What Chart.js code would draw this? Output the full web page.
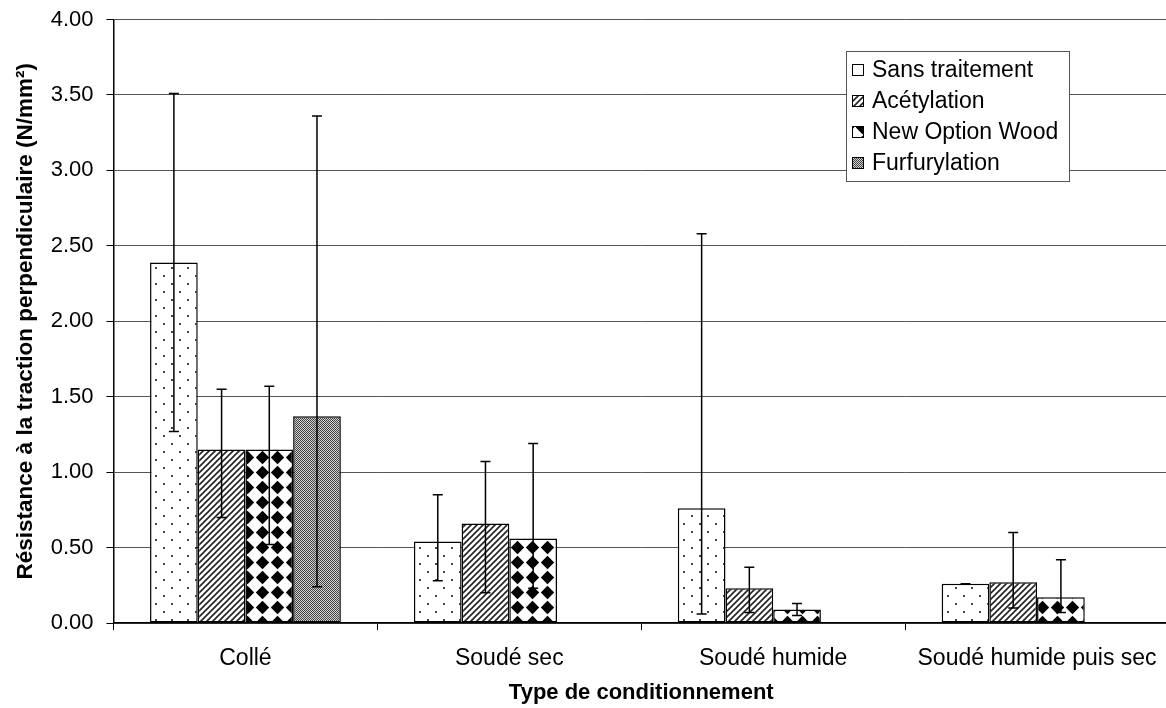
<!DOCTYPE html>
<html>
<head>
<meta charset="utf-8">
<script src="https://cdn.jsdelivr.net/npm/chart.js@4.4.0/dist/chart.umd.min.js"></script>
<style>
  html, body { margin: 0; padding: 0; background: #fff; overflow: hidden; }
  #wrap { width: 1170px; height: 708px; }
</style>
</head>
<body>
<div id="wrap"><canvas id="chart"></canvas></div>
<script>
const categories = ["Collé", "Soudé sec", "Soudé humide", "Soudé humide puis sec"];
const seriesNames = ["Sans traitement", "Acétylation", "New Option Wood", "Furfurylation"];

// mean values
const sansValues = [2.39, 0.54, 0.76, 0.26];
const acetValues = [1.15, 0.66, 0.23, 0.27];
const nowValues = [1.15, 0.56, 0.09, 0.17];
const furfValues = [1.37, null, null, null];

// error bar ends
const sansLow = [1.27, 0.28, 0.06, 0.26];
const sansHigh = [3.51, 0.85, 2.58, 0.26];
const acetLow = [0.70, 0.20, 0.07, 0.10];
const acetHigh = [1.55, 1.07, 0.37, 0.60];
const nowLow = [0.52, 0.23, 0.05, 0.07];
const nowHigh = [1.57, 1.19, 0.13, 0.42];
const furfLow = [0.24, null, null, null];
const furfHigh = [3.36, null, null, null];

const yTickValues = [0, 0.5, 1, 1.5, 2, 2.5, 3, 3.5, 4];

const FONT = "'Liberation Sans', Arial, sans-serif";

function makePattern(kind) {
  const c = document.createElement("canvas");
  const g = c.getContext("2d");
  if (kind === "dots") {
    c.width = 16; c.height = 16;
    g.fillStyle = "#fff"; g.fillRect(0, 0, 16, 16);
    g.fillStyle = "#444";
    g.fillRect(3, 3, 2, 2);
    g.fillRect(11, 11, 2, 2);
  } else if (kind === "diag") {
    c.width = 6; c.height = 6;
    g.fillStyle = "#fff"; g.fillRect(0, 0, 6, 6);
    g.strokeStyle = "#222"; g.lineWidth = 1.6;
    g.beginPath();
    g.moveTo(-1, 7); g.lineTo(7, -1);
    g.moveTo(-4, 4); g.lineTo(4, -4);
    g.moveTo(2, 10); g.lineTo(10, 2);
    g.stroke();
  } else if (kind === "diamond") {
    c.width = 15; c.height = 15;
    g.fillStyle = "#fff"; g.fillRect(0, 0, 15, 15);
    g.fillStyle = "#000";
    g.beginPath();
    g.moveTo(7.5, 0.8); g.lineTo(14.2, 7.5); g.lineTo(7.5, 14.2); g.lineTo(0.8, 7.5);
    g.closePath(); g.fill();
  } else {
    c.width = 2; c.height = 2;
    g.fillStyle = "#d0d0d0"; g.fillRect(0, 0, 2, 2);
    g.fillStyle = "#444";
    g.fillRect(0, 0, 1, 1);
    g.fillRect(1, 1, 1, 1);
  }
  return g.createPattern(c, "repeat");
}

const patterns = [makePattern("dots"), makePattern("diag"), makePattern("diamond"), makePattern("fine")];

const errorBars = {
  id: "errorBars",
  afterDatasetsDraw(chart) {
    const ctx = chart.ctx;
    const yScale = chart.scales.y;
    ctx.save();
    ctx.strokeStyle = "#000";
    ctx.lineWidth = 1.5;
    chart.data.datasets.forEach(function (ds, i) {
      const meta = chart.getDatasetMeta(i);
      meta.data.forEach(function (bar, j) {
        if (ds.data[j] == null || ds.errLow[j] == null) return;
        const x = bar.x;
        const lo = yScale.getPixelForValue(ds.errLow[j]);
        const hi = yScale.getPixelForValue(ds.errHigh[j]);
        ctx.beginPath();
        ctx.moveTo(x, lo); ctx.lineTo(x, hi);
        ctx.moveTo(x - 5, lo); ctx.lineTo(x + 5, lo);
        ctx.moveTo(x - 5, hi); ctx.lineTo(x + 5, hi);
        ctx.stroke();
      });
    });
    ctx.restore();
  }
};

const boxLegend = {
  id: "boxLegend",
  afterDraw(chart) {
    const ctx = chart.ctx;
    const left = 846, top = 51, w = 223, h = 130;
    ctx.save();
    ctx.fillStyle = "#fff";
    ctx.fillRect(left, top, w, h);
    ctx.strokeStyle = "#555";
    ctx.lineWidth = 1;
    ctx.strokeRect(left + 0.5, top + 0.5, w, h);
    ctx.font = "23px " + FONT;
    ctx.textBaseline = "middle";
    chart.data.datasets.forEach(function (ds, i) {
      const cy = 70 + i * 31;
      ctx.fillStyle = ds.backgroundColor;
      ctx.fillRect(852, cy - 6, 12, 12);
      ctx.strokeStyle = "#000";
      ctx.strokeRect(852.5, cy - 5.5, 11, 11);
      ctx.fillStyle = "#000";
      ctx.fillText(ds.label, 872, cy + 1);
    });
    ctx.restore();
  }
};

function makeDataset(i, values, low, high) {
  return {
    label: seriesNames[i],
    data: values,
    errLow: low,
    errHigh: high,
    backgroundColor: patterns[i],
    borderColor: "#000",
    borderWidth: 1.5,
    borderSkipped: false,
    categoryPercentage: 0.723,
    barPercentage: 1.0,
  };
}

new Chart(document.getElementById("chart"), {
  type: "bar",
  data: {
    labels: categories,
    datasets: [
      makeDataset(0, sansValues, sansLow, sansHigh),
      makeDataset(1, acetValues, acetLow, acetHigh),
      makeDataset(2, nowValues, nowLow, nowHigh),
      makeDataset(3, furfValues, furfLow, furfHigh),
    ],
  },
  options: {
    responsive: true,
    maintainAspectRatio: false,
    animation: false,
    layout: { padding: { left: 0, right: 1, top: 19.5, bottom: 0 } },
    plugins: {
      legend: { display: false },
      tooltip: { enabled: false },
    },
    scales: {
      x: {
        grid: {
          offset: true,
          drawOnChartArea: false,
          drawTicks: true,
          tickLength: 7,
          color: "#000",
        },
        border: { color: "#000", width: 1.5 },
        ticks: {
          color: "#000",
          font: { family: FONT, size: 23 },
          padding: 15,
          maxRotation: 0,
          autoSkip: false,
        },
        title: {
          display: true,
          text: "Type de conditionnement",
          color: "#000",
          font: { family: FONT, size: 22, weight: "bold" },
          padding: { top: 0, bottom: 2 },
        },
        afterFit: function (scale) {
          scale.height = 85;
          scale.paddingLeft = 0;
          scale.paddingRight = 0;
        },
      },
      y: {
        min: 0,
        max: 4,
        afterBuildTicks: function (scale) {
          scale.ticks = yTickValues.map(function (v) { return { value: v }; });
        },
        grid: {
          color: "#555",
          lineWidth: 1,
          tickLength: 7,
          tickColor: "#000",
        },
        border: { color: "#000", width: 1.5 },
        ticks: {
          color: "#000",
          font: { family: FONT, size: 22 },
          padding: 13,
          callback: function (v) { return Number(v).toFixed(2); },
        },
        title: {
          display: true,
          text: "Résistance à la traction perpendiculaire (N/mm²)",
          color: "#000",
          font: { family: FONT, size: 22.5, weight: "bold" },
          padding: { top: 12, bottom: 0 },
        },
        afterFit: function (scale) {
          scale.width = 113.5;
          scale.paddingTop = 0;
          scale.paddingBottom = 0;
        },
      },
    },
  },
  plugins: [errorBars, boxLegend],
});
</script>
</body>
</html>
